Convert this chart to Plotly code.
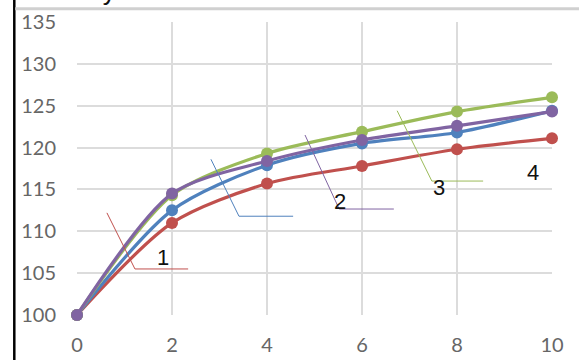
import plotly.graph_objects as go

x_vals = [0, 2, 4, 6, 8, 10]
series1 = [100, 111.0, 115.7, 117.8, 119.8, 121.1]   # red
series2 = [100, 112.5, 117.9, 120.5, 121.8, 124.4]   # blue
series3 = [100, 114.3, 119.3, 121.9, 124.3, 126.0]   # green
series4 = [100, 114.5, 118.4, 120.9, 122.6, 124.3]   # purple

colors = {"1": "#C0504D", "2": "#4F81BD", "3": "#9BBB59", "4": "#8064A2"}

x_ticks = [0, 2, 4, 6, 8, 10]
y_ticks = [100, 105, 110, 115, 120, 125, 130, 135]

# label annotations: text, position, leader line points
label_texts = ["1", "2", "3", "4"]
label_x = [1.81, 5.54, 7.62, 9.60]
label_y = [106.9, 113.5, 115.2, 117.0]
leader_colors = ["#C0504D", "#8064A2", "#9BBB59", None]
leader_x = [[0.63, 1.22, 2.34], [4.80, 5.52, 6.67], [6.74, 7.47, 8.55], None]
leader_y = [[112.2, 105.5, 105.5], [121.5, 112.66, 112.66], [124.4, 116.0, 116.0], None]
blue_leader_x = [2.82, 3.41, 4.55]
blue_leader_y = [118.6, 111.8, 111.8]

fig = go.Figure()
for name, ys, col in [("1", series1, colors["1"]), ("2", series2, colors["2"]),
                      ("3", series3, colors["3"]), ("4", series4, colors["4"])]:
    fig.add_trace(go.Scatter(
        x=x_vals, y=ys, mode="lines+markers", name=name,
        line=dict(color=col, width=3.2, shape="spline", smoothing=0.8),
        marker=dict(color=col, size=12),
        cliponaxis=False, showlegend=False, hoverinfo="skip"))

# leader lines
for lx, ly, lc in zip(leader_x, leader_y, leader_colors):
    if lx is None:
        continue
    fig.add_trace(go.Scatter(x=lx, y=ly, mode="lines", line=dict(color=lc, width=1),
                             showlegend=False, hoverinfo="skip", cliponaxis=False))
fig.add_trace(go.Scatter(x=blue_leader_x, y=blue_leader_y, mode="lines",
                         line=dict(color="#4F81BD", width=1),
                         showlegend=False, hoverinfo="skip", cliponaxis=False))

for t, lx, ly in zip(label_texts, label_x, label_y):
    fig.add_annotation(x=lx, y=ly, text=t, showarrow=False,
                       font=dict(family="Liberation Sans, Arial", size=22, color="#111111"))

# partially visible caption at the very top
fig.add_annotation(xref="paper", yref="paper", x=-0.045, y=1, xanchor="left", yanchor="bottom",
                   yshift=14, text="Рисунок 2", showarrow=False,
                   font=dict(family="Liberation Sans, Arial", size=26, color="#111111"))

# page decorations: black left edge, gray top band
fig.add_shape(type="line", xref="paper", yref="paper", x0=-0.132, x1=-0.132, y0=-0.2, y1=1.1,
              line=dict(color="#000000", width=2.5))
fig.add_shape(type="line", xref="paper", yref="paper", x0=-0.13, x1=1.1, y0=1.045, y1=1.045,
              line=dict(color="#D0D0D0", width=3))

tick_font = dict(family="Lato, Open Sans", size=20, color="#666666")
fig.update_xaxes(range=[0, 10], tickvals=x_ticks, showgrid=True, gridcolor="#DCDCDC",
                 gridwidth=1.5, zeroline=False, showline=False, ticks="",
                 tickfont=tick_font, ticklabelstandoff=16, automargin=False)
fig.update_yaxes(range=[100, 135], tickvals=y_ticks, showgrid=True, gridcolor="#DCDCDC",
                 gridwidth=1.5, zeroline=False, showline=False, ticks="",
                 tickfont=tick_font, ticklabelstandoff=20, automargin=False)

fig.update_layout(width=579, height=360, margin=dict(l=77, r=27, t=22, b=45),
                  plot_bgcolor="white", paper_bgcolor="white")

fig.write_html("out.html", config={"displayModeBar": False},
               post_script="document.body.style.margin='0';")
